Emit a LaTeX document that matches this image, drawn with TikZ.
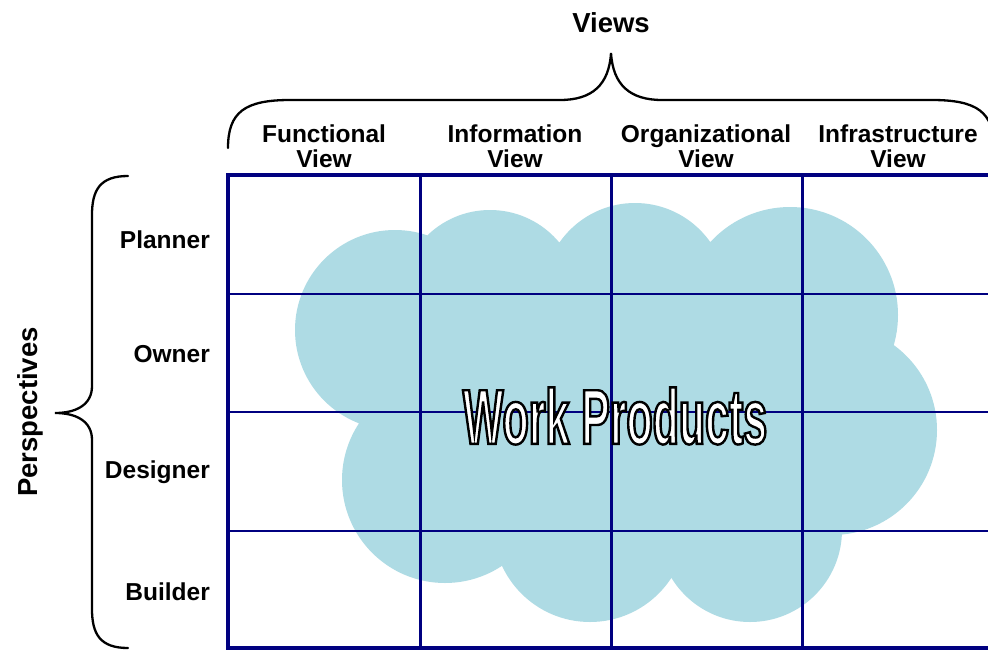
\documentclass[tikz,border=0pt]{standalone}
\usepackage{fontspec}
\setmainfont{Liberation Sans}
\newfontfamily\wpfont{Liberation Sans}[FakeStretch=0.55]
\usetikzlibrary{positioning}
\definecolor{gridnavy}{RGB}{0,0,128}
\definecolor{cloudblue}{RGB}{174,219,228}
\newcommand\outlined[1]{\textcolor{white}{\special{pdf:literal direct 0 0 0 RG 2 Tr 2.4 w}#1\special{pdf:literal direct 0 Tr}}}

\begin{document}
\begin{tikzpicture}[x=1pt,y=-1pt,
  label font/.style={font=\bfseries\fontsize{24.5}{25.5}\selectfont},
  view head/.style={label font,align=center,inner sep=0pt},
  role/.style={label font,anchor=east,inner sep=0pt},
  big head/.style={font=\bfseries\fontsize{27.5}{30}\selectfont,inner sep=0pt},
  brace line/.style={draw=black,line width=2.3pt,line cap=round},
  grid line/.style={draw=gridnavy,line width=2pt}]
  \useasboundingbox[fill=white] (0,0) rectangle (988,653);
  \clip (0,0) rectangle (988,653);

  % cloud
  \fill[cloudblue] (395,330) -- (490,300) -- (635,295) -- (790,315) -- (832,430)
    -- (750,530) -- (590,525) -- (445,480) -- cycle;
  \fill[cloudblue] (395,330) circle (100pt) (490,300) circle (90pt)
    (635,295) circle (92pt) (790,315) circle (108pt) (832,430) circle (105pt)
    (750,530) circle (92pt) (590,525) circle (97pt) (445,480) circle (103pt);

  % grid
  \foreach \x in {420,611,802}
    \draw[grid line,line width=3pt] (\x,175) -- (\x,648);
  \foreach \y in {294,412,531}
    \draw[grid line] (228,\y) -- (994,\y);
  \draw[grid line,line width=4pt] (228,175) rectangle (994,648);

  % labels
  \node[big head] (views) at (611,23) {Views};
  \node[big head,rotate=90] (persp) at (30,412) {Perspectives};
  \node[view head] (functional) at (324,146) {Functional\\View};
  \node[view head] (information) at (515,146) {Information\\View};
  \node[view head] (organizational) at (706,146) {Organizational\\View};
  \node[view head] (infrastructure) at (898,146) {Infrastructure\\View};
  \node[role] (planner) at (210,240) {Planner};
  \node[role] (owner) at (210,354) {Owner};
  \node[role] (designer) at (210,472) {Designer};
  \node[role] (builder) at (210,592) {Builder};

  % braces
  \draw[brace line] (228,148) .. controls (228,112) and (245,100) .. (290,100)
    -- (560,100) .. controls (592,100) and (609,85) .. (611,53)
    .. controls (613,85) and (630,100) .. (662,100) -- (932,100)
    .. controls (977,100) and (994,112) .. (994,148);
  \draw[brace line] (128,176) .. controls (100,176) and (92,190) .. (92,215)
    -- (92,386) .. controls (92,405) and (76,413) .. (55,413)
    .. controls (76,413) and (92,421) .. (92,440) -- (92,609)
    .. controls (92,634) and (100,648) .. (128,648);

  \node[inner sep=0pt,font=\wpfont\bfseries\fontsize{78}{80}\selectfont] (work) at (615,416)
    {\outlined{Work Products}};
\end{tikzpicture}
\end{document}
